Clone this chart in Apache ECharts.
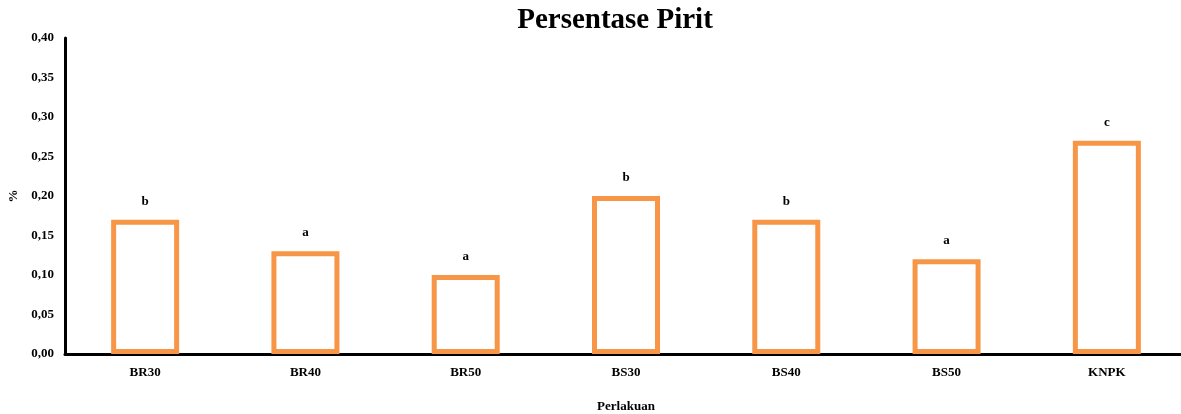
<!DOCTYPE html>
<html>
<head>
<meta charset="utf-8">
<script src="https://cdn.jsdelivr.net/npm/echarts@6/dist/echarts.min.js"></script>
<style>html,body{margin:0;padding:0;background:#fff;}#c{width:1181px;height:414px;}</style>
</head>
<body>
<div id="c"></div>
<script>
const categories = ['BR30', 'BR40', 'BR50', 'BS30', 'BS40', 'BS50', 'KNPK'];
const values = [0.17, 0.13, 0.10, 0.20, 0.17, 0.12, 0.27];
const letters = ['b', 'a', 'a', 'b', 'b', 'a', 'c'];

const font = '"Liberation Serif", "Times New Roman", serif';
const chart = echarts.init(document.getElementById('c'));
chart.setOption({
  animation: false,
  backgroundColor: '#fff',
  title: {
    text: 'Persentase Pirit',
    left: 610, top: 1, textAlign: 'center',
    textStyle: { fontFamily: font, fontWeight: 'bold', fontSize: 29, color: '#000' }
  },
  grid: { left: 65, right: -6, top: 38, bottom: 60, containLabel: false, outerBoundsMode: 'none' },
  xAxis: {
    type: 'category', data: categories,
    name: 'Perlakuan', nameLocation: 'middle', nameGap: 46,
    nameTextStyle: { fontFamily: font, fontWeight: 'bold', fontSize: 13, color: '#000' },
    axisLine: { lineStyle: { color: '#000', width: 3 } },
    axisTick: { show: false },
    axisLabel: { fontFamily: font, fontWeight: 'bold', fontSize: 13, color: '#000', margin: 12 }
  },
  yAxis: {
    type: 'value', min: 0, max: 0.4, interval: 0.05,
    name: '%', nameLocation: 'middle', nameGap: 44, nameRotate: 90,
    nameTextStyle: { fontFamily: font, fontWeight: 'bold', fontSize: 13, color: '#000' },
    axisLine: { show: true, lineStyle: { color: '#000', width: 3 } },
    axisTick: { show: false },
    splitLine: { show: false },
    axisLabel: {
      fontFamily: font, fontWeight: 'bold', fontSize: 13, color: '#000', margin: 11,
      formatter: v => v.toFixed(2).replace('.', ',')
    }
  },
  series: [{
    type: 'bar', data: values, barWidth: 68,
    itemStyle: { color: '#fff', borderColor: '#F79646', borderWidth: 5 },
    label: {
      show: true, position: 'top', distance: 12,
      formatter: p => letters[p.dataIndex],
      fontFamily: font, fontWeight: 'bold', fontSize: 13, color: '#000'
    }
  }]
});
</script>
</body>
</html>
